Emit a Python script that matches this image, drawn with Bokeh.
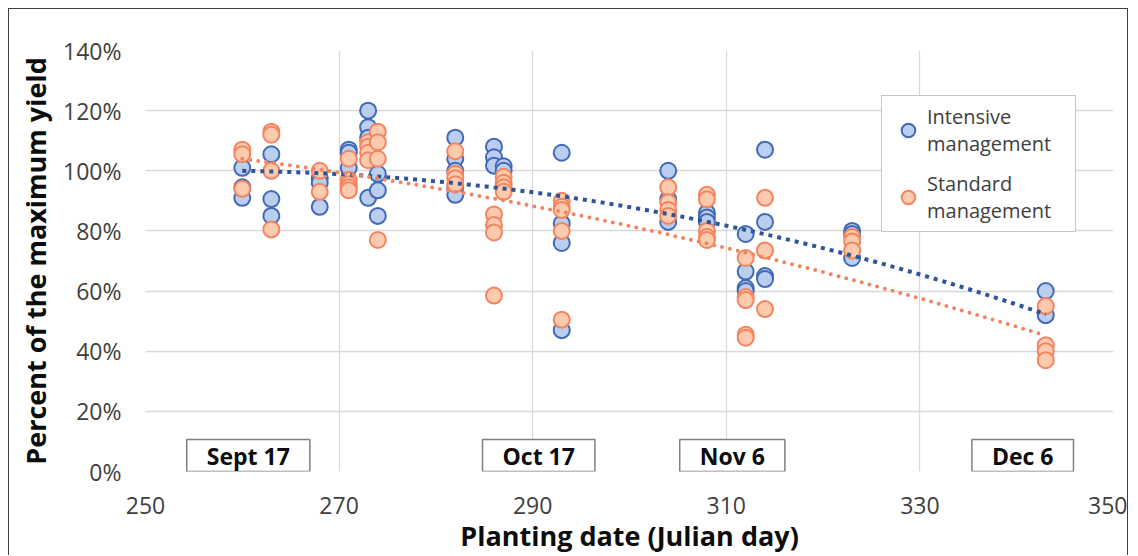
import numpy as np
from bokeh.plotting import figure
from bokeh.models import (ColumnDataSource, Legend, LegendItem, Label,
                          NumeralTickFormatter, FixedTicker, Range1d)
from bokeh.embed import file_html
from bokeh.resources import INLINE

# ---------------- data ----------------
int_day = [260, 260, 260, 263, 263, 263, 268, 268, 268, 271, 271, 271,
           273, 273, 273, 273, 274, 274, 274, 282, 282, 282, 282, 282,
           286, 286, 286, 287, 287, 293, 293, 293, 293, 304, 304, 304,
           308, 308, 308, 312, 312, 312, 312, 314, 314, 314, 314,
           323, 323, 323, 343, 343]
int_pct = [101, 94.5, 91, 105.5, 90.6, 85, 97.5, 96, 88, 107, 106, 101,
           120, 114.5, 111, 91, 99, 93.5, 85, 111, 104, 100, 94.5, 92,
           108, 104.5, 101.7, 101.5, 100, 106, 82.5, 76, 47, 100, 90.5, 83,
           86, 84.5, 83, 79, 66.5, 61, 60, 107, 83, 65, 64,
           80, 79, 71, 60, 52]

std_day = [260, 260, 260, 263, 263, 263, 263, 268, 268,
           271, 271, 271, 271, 271, 273, 273, 273, 273, 274, 274, 274, 274,
           282, 282, 282, 282, 286, 286, 286, 286, 287, 287, 287, 287,
           293, 293, 293, 293, 293, 304, 304, 304, 304,
           308, 308, 308, 308, 308, 312, 312, 312, 312, 312,
           314, 314, 314, 323, 323, 323, 343, 343, 343, 343]
std_pct = [107, 105.5, 94, 113, 112, 100, 80.5, 100, 93,
           104, 97, 95.5, 94.5, 93.5, 109.5, 108, 106, 103.5, 113, 109.5, 104, 77,
           106.5, 99, 97.5, 95.5, 85.5, 82, 79.5, 58.5, 98, 96, 94.5, 93,
           90, 88, 87, 80, 50.5, 94.5, 89.5, 87, 85,
           92, 90.5, 80, 78, 77, 71, 58, 57, 45.5, 44.5,
           91, 73.5, 54, 78, 76.5, 73.5, 55, 42, 40, 37]

series_names = ["Intensive\nmanagement", "Standard\nmanagement"]
x_ticks = [250, 270, 290, 310, 330, 350]
y_ticks = [0, 20, 40, 60, 80, 100, 120, 140]
date_labels = ["Sept 17", "Oct 17", "Nov 6", "Dec 6"]
date_days = [260, 290, 310, 340]

# ---------------- styling ----------------
FONT = "Open Sans"
BLUE_FILL, BLUE_LINE, BLUE_TREND = "#BACEEF", "#4169B8", "#2F5597"
ORG_FILL, ORG_LINE, ORG_TREND = "#FDCAAE", "#F4845F", "#F4845F"

p = figure(width=1120, height=547,
           x_range=Range1d(250, 350), y_range=Range1d(0, 1.4),
           output_backend="svg", toolbar_location=None,
           min_border_left=136, min_border_right=16,
           min_border_top=41, min_border_bottom=84)
p.styles = {"margin-left": "8px", "margin-top": "8px",
            "border-left": "1px solid #404040", "border-top": "1px solid #404040",
            "border-right": "1px solid #404040"}
p.outline_line_color = None
p.background_fill_color = "white"

p.xaxis.ticker = FixedTicker(ticks=x_ticks)
p.yaxis.ticker = FixedTicker(ticks=[v / 100 for v in y_ticks])
p.yaxis.formatter = NumeralTickFormatter(format="0%")

for ax in (p.xaxis, p.yaxis):
    ax.axis_line_color = None
    ax.major_tick_line_color = None
    ax.minor_tick_line_color = None
    ax.major_tick_out = 0
    ax.major_tick_in = 0
    ax.major_label_text_font = FONT
    ax.major_label_text_font_size = "23px"
    ax.major_label_text_color = "#404040"
    ax.axis_label_text_font = FONT
    ax.axis_label_text_font_size = "27px"
    ax.axis_label_text_font_style = "bold"
    ax.axis_label_text_color = "#0D0D0D"

p.xaxis.axis_label = "Planting date (Julian day)"
p.yaxis.axis_label = "Percent of the maximum yield"
p.xaxis.major_label_standoff = 25
p.xaxis.axis_label_standoff = 0
p.yaxis.major_label_standoff = 24
p.yaxis.axis_label_standoff = 6

p.xgrid.grid_line_color = "#D9D9D9"
p.ygrid.grid_line_color = "#D9D9D9"
p.xgrid.grid_line_width = 1.3
p.ygrid.grid_line_width = 1.3

src_i = ColumnDataSource(dict(x=int_day, y=[v / 100 for v in int_pct]))
src_s = ColumnDataSource(dict(x=std_day, y=[v / 100 for v in std_pct]))

r_i = p.scatter("x", "y", source=src_i, size=16, fill_color=BLUE_FILL,
                line_color=BLUE_LINE, line_width=2)
r_s = p.scatter("x", "y", source=src_s, size=16, fill_color=ORG_FILL,
                line_color=ORG_LINE, line_width=2)

# polynomial (2nd order) trendlines fitted to the data, as in the source chart
def trend(days, pcts):
    c = np.polyfit(days, np.array(pcts) / 100.0, 2)
    xs = np.linspace(min(days), max(days), 120)
    return xs, np.polyval(c, xs)

xi, yi = trend(int_day, int_pct)
xs_, ys_ = trend(std_day, std_pct)
p.line(xi, yi, line_color=BLUE_TREND, line_width=4, line_dash="4 5")
p.line(xs_, ys_, line_color=ORG_TREND, line_width=4, line_dash="0 8",
       line_cap="round")

for txt, d in zip(date_labels, date_days):
    p.add_layout(Label(x=d, y=0, x_offset=6, y_offset=0, text=txt,
                       text_align="center", text_baseline="bottom",
                       anchor="bottom_center",
                       text_font=FONT, text_font_size="23px",
                       text_font_style="bold", text_color="#0D0D0D",
                       background_fill_color="white",
                       border_line_color="#7F7F7F", border_line_width=1.5,
                       padding=(20, 20, 0, 0)))

legend = Legend(items=[LegendItem(label=series_names[0], renderers=[r_i]),
                       LegendItem(label=series_names[1], renderers=[r_s])],
                location=(736, 239))
legend.label_text_font = FONT
legend.label_text_font_size = "20px"
legend.label_text_color = "#404040"
legend.label_text_line_height = 1.56
legend.label_width = 141
legend.border_line_color = "#8C8C8C"
legend.border_line_width = 1.5
legend.background_fill_color = "white"
legend.background_fill_alpha = 1
legend.padding = 7
legend.margin = 0
legend.spacing = 13
legend.glyph_width = 38
legend.glyph_height = 34
legend.label_standoff = 0
p.add_layout(legend, "center")

open("out.html", "w").write(file_html(p, INLINE))
